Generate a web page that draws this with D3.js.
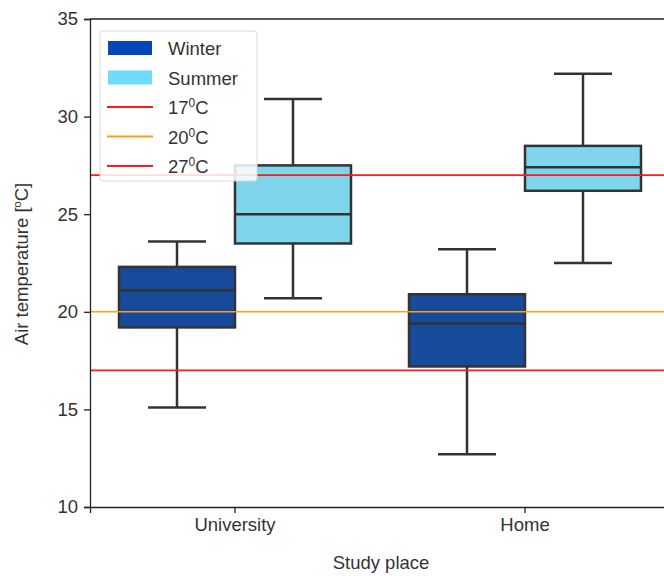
<!DOCTYPE html>
<html><head><meta charset="utf-8">
<script src="https://cdn.jsdelivr.net/npm/d3@7"></script>
<style>body{margin:0;background:#fff;} text{font-family:"Liberation Sans",Arial,sans-serif;}</style>
</head><body><svg id="c" width="664" height="576"></svg>
<script>
const places = ["University", "Home"];
const seasons = ["Winter", "Summer"];
// [whiskerLow, q1, median, q3, whiskerHigh]
const winterStats = [[15.1, 19.2, 21.1, 22.3, 23.6], [12.7, 17.2, 19.4, 20.9, 23.2]];
const summerStats = [[20.7, 23.5, 25.0, 27.5, 30.9], [22.5, 26.2, 27.4, 28.5, 32.2]];
const yTicks = [10, 15, 20, 25, 30, 35];
const refLines = [{v: 17, label: "17", color: "#ff1a1a"}, {v: 20, label: "20", color: "#ffa01a"}, {v: 27, label: "27", color: "#ff1a1a"}];

const FS = 18.5;
const svg = d3.select("#c");
const M = {l: 90, t: 19, r: 670, b: 507};
const x = d3.scaleBand().domain(places).range([M.l, M.r]);
const y = d3.scaleLinear().domain([10, 35]).range([M.b, M.t]);
const hue = d3.scaleBand().domain(seasons).range([0, x.bandwidth()]).paddingOuter(0.25).paddingInner(0);
const boxColor = {Winter: "#184a9c", Summer: "#7fd6ec"};
const legColor = {Winter: "#0a45b8", Summer: "#6cdcff"};
const edge = "#333333";

const data = [];
places.forEach((p, i) => {
  data.push({place: p, season: "Winter", s: winterStats[i]});
  data.push({place: p, season: "Summer", s: summerStats[i]});
});

const g = svg.append("g");
data.forEach(d => {
  const x0 = x(d.place) + hue(d.season);
  const w = hue.bandwidth();
  const cx = x0 + w / 2;
  const [lo, q1, med, q3, hi] = d.s;
  g.append("line").attr("x1", cx).attr("x2", cx).attr("y1", y(q3)).attr("y2", y(hi)).attr("stroke", edge).attr("stroke-width", 2.5);
  g.append("line").attr("x1", cx).attr("x2", cx).attr("y1", y(q1)).attr("y2", y(lo)).attr("stroke", edge).attr("stroke-width", 2.5);
  g.append("line").attr("x1", cx - w / 4).attr("x2", cx + w / 4).attr("y1", y(hi)).attr("y2", y(hi)).attr("stroke", edge).attr("stroke-width", 2.5);
  g.append("line").attr("x1", cx - w / 4).attr("x2", cx + w / 4).attr("y1", y(lo)).attr("y2", y(lo)).attr("stroke", edge).attr("stroke-width", 2.5);
  g.append("rect").attr("x", x0).attr("width", w).attr("y", y(q3)).attr("height", y(q1) - y(q3))
    .attr("fill", boxColor[d.season]).attr("stroke", edge).attr("stroke-width", 2.5);
  g.append("line").attr("x1", x0).attr("x2", x0 + w).attr("y1", y(med)).attr("y2", y(med)).attr("stroke", edge).attr("stroke-width", 2.5);
});

refLines.forEach(r => {
  svg.append("line").attr("x1", M.l).attr("x2", M.r).attr("y1", y(r.v)).attr("y2", y(r.v)).attr("stroke", r.color).attr("stroke-width", 1.6);
});

// axes
const ya = svg.append("g").attr("transform", `translate(${M.l},0)`).call(d3.axisLeft(y).tickValues(yTicks).tickSize(6).tickPadding(6));
const xa = svg.append("g").attr("transform", `translate(0,${M.b})`).call(d3.axisBottom(x).tickSize(6).tickPadding(5));
[ya, xa].forEach(a => {
  a.select(".domain").attr("stroke", "#222").attr("stroke-width", 1.3);
  a.selectAll(".tick line").attr("stroke", "#222").attr("stroke-width", 1.3);
  a.selectAll("text").attr("font-size", FS).attr("fill", "#333").attr("font-family", "Liberation Sans, Arial, sans-serif");
});
svg.append("line").attr("x1", M.l).attr("x2", M.r).attr("y1", M.t).attr("y2", M.t).attr("stroke", "#222").attr("stroke-width", 1.3);

svg.append("text").attr("x", 381).attr("y", 569).attr("text-anchor", "middle").attr("font-size", FS).attr("fill", "#333").text("Study place");
const yl = svg.append("text").attr("transform", "translate(28,264) rotate(-90)").attr("text-anchor", "middle").attr("font-size", FS).attr("fill", "#333");
yl.append("tspan").text("Air temperature [");
yl.append("tspan").attr("font-size", 11).attr("dy", -7).text("o");
yl.append("tspan").attr("dy", 7).text("C]");

// legend
const lg = svg.append("g").attr("transform", "translate(100,31)");
lg.append("rect").attr("width", 157).attr("height", 150).attr("rx", 3).attr("fill", "#fff").attr("fill-opacity", 0.85).attr("stroke", "#d8d8d8").attr("stroke-width", 1);
seasons.forEach((s, i) => {
  const yy = 17 + i * 29.5;
  lg.append("rect").attr("x", 8).attr("y", yy - 7).attr("width", 44).attr("height", 14).attr("fill", legColor[s]);
  lg.append("text").attr("x", 68).attr("y", yy + 7).attr("font-size", FS).attr("fill", "#333").text(s);
});
refLines.forEach((r, i) => {
  const yy = 17 + (i + 2) * 29.5;
  lg.append("line").attr("x1", 7).attr("x2", 53).attr("y1", yy).attr("y2", yy).attr("stroke", r.color).attr("stroke-width", 2.2);
  const t = lg.append("text").attr("x", 68).attr("y", yy + 7).attr("font-size", FS).attr("fill", "#333");
  t.append("tspan").text(r.label);
  t.append("tspan").attr("font-size", 12).attr("dy", -7).text("0");
  t.append("tspan").attr("dy", 7).text("C");
});
</script></body></html>
